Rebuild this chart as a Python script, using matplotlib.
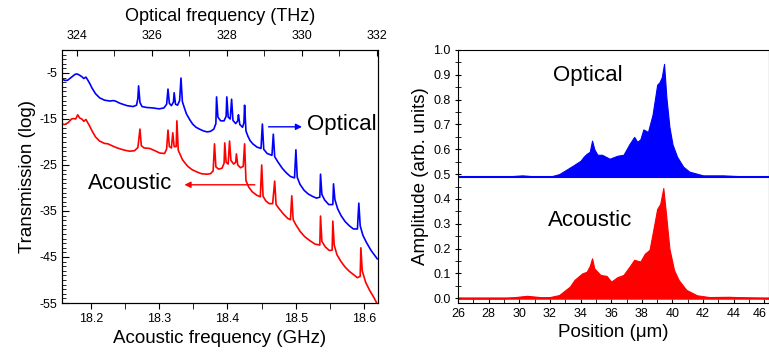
import matplotlib
matplotlib.use("Agg")
import matplotlib.pyplot as plt
from matplotlib.ticker import MultipleLocator
from matplotlib.transforms import ScaledTranslation

plt.rcParams['font.family'] = ['Liberation Sans', 'DejaVu Sans']

# ---- Left panel: transmission spectra (acoustic freq GHz, transmission log) ----
opt_f = [18.158, 18.162, 18.166, 18.172, 18.177, 18.180, 18.184, 18.187, 18.190, 18.193,
         18.196, 18.199, 18.202, 18.207, 18.213, 18.220, 18.228, 18.233, 18.236, 18.243,
         18.253, 18.262, 18.267, 18.269, 18.270, 18.272, 18.275, 18.282, 18.291, 18.300,
         18.307, 18.311, 18.313, 18.315, 18.318, 18.321, 18.322, 18.324, 18.327, 18.330,
         18.332, 18.334, 18.337, 18.340, 18.345, 18.349, 18.354, 18.359, 18.365, 18.370,
         18.375, 18.380, 18.383, 18.384, 18.386, 18.390, 18.395, 18.398, 18.399, 18.401,
         18.404, 18.406, 18.408, 18.412, 18.415, 18.416, 18.418, 18.422, 18.424, 18.425,
         18.427, 18.430, 18.433, 18.437, 18.443, 18.449, 18.451, 18.453, 18.458, 18.465,
         18.467, 18.469, 18.474, 18.480, 18.486, 18.492, 18.498, 18.500, 18.502, 18.506,
         18.512, 18.518, 18.524, 18.530, 18.535, 18.536, 18.538, 18.542, 18.548, 18.554,
         18.555, 18.557, 18.561, 18.566, 18.572, 18.578, 18.584, 18.590, 18.592, 18.594,
         18.598, 18.603, 18.610, 18.619]
opt_t = [-6.3, -6.6, -6.6, -5.9, -5.3, -5.2, -5.5, -5.8, -6.2, -5.9,
         -6.6, -7.4, -8.3, -9.5, -10.4, -10.9, -11.1, -11.0, -11.1, -11.6,
         -12.1, -12.3, -12.0, -10.5, -7.8, -11.4, -12.3, -12.5, -12.6, -12.8,
         -12.6, -11.8, -8.5, -11.6, -12.1, -11.3, -9.3, -11.8, -12.0, -11.0,
         -6.1, -11.2, -12.6, -13.9, -15.2, -16.1, -16.8, -17.2, -17.6, -17.8,
         -17.7, -17.2, -16.0, -10.2, -14.6, -15.4, -15.4, -14.4, -10.2, -14.6,
         -15.0, -10.7, -15.3, -16.0, -15.4, -14.1, -16.2, -16.8, -15.8, -12.0,
         -17.6, -18.8, -19.7, -20.4, -21.1, -21.4, -16.1, -21.6, -22.5, -22.9,
         -18.3, -23.2, -24.4, -25.7, -26.7, -27.5, -27.8, -21.7, -27.7, -29.2,
         -30.5, -31.3, -31.8, -32.2, -32.0, -27.0, -31.4, -32.6, -33.6, -33.6,
         -29.1, -32.5, -34.5, -36.0, -37.3, -38.2, -38.9, -38.9, -33.3, -38.2,
         -40.3, -41.8, -43.6, -45.4]

ac_f = [18.158, 18.162, 18.167, 18.172, 18.175, 18.178, 18.181, 18.184, 18.187, 18.190,
        18.193, 18.196, 18.199, 18.202, 18.207, 18.213, 18.220, 18.225, 18.231, 18.237,
        18.243, 18.250, 18.257, 18.264, 18.269, 18.272, 18.274, 18.278, 18.286, 18.294,
        18.301, 18.308, 18.311, 18.313, 18.315, 18.318, 18.320, 18.322, 18.325, 18.326,
        18.328, 18.331, 18.334, 18.338, 18.342, 18.348, 18.355, 18.362, 18.370, 18.375,
        18.379, 18.381, 18.383, 18.387, 18.392, 18.395, 18.396, 18.398, 18.401, 18.403,
        18.405, 18.409, 18.412, 18.413, 18.415, 18.419, 18.423, 18.425, 18.427, 18.431,
        18.436, 18.443, 18.448, 18.450, 18.452, 18.456, 18.461, 18.466, 18.469, 18.471,
        18.476, 18.482, 18.488, 18.492, 18.494, 18.496, 18.500, 18.506, 18.513, 18.520,
        18.528, 18.535, 18.536, 18.538, 18.543, 18.549, 18.553, 18.554, 18.556, 18.560,
        18.566, 18.572, 18.578, 18.584, 18.590, 18.594, 18.595, 18.597, 18.602, 18.608,
        18.614, 18.620]
ac_t = [-16.1, -16.2, -15.8, -15.0, -14.9, -15.0, -14.1, -14.8, -15.0, -15.5,
        -15.1, -15.9, -16.7, -17.6, -18.9, -19.8, -20.3, -20.4, -20.8, -21.2,
        -21.5, -21.8, -22.0, -21.9, -21.2, -17.2, -20.8, -21.3, -21.4, -21.9,
        -22.4, -22.5, -21.5, -17.4, -21.0, -21.3, -18.0, -21.0, -21.0, -15.4,
        -21.8, -22.8, -23.8, -24.6, -25.3, -26.0, -26.5, -26.9, -27.0, -26.9,
        -26.3, -20.4, -25.4, -25.9, -25.7, -24.6, -20.2, -24.4, -24.8, -19.8,
        -24.0, -24.8, -24.4, -22.6, -25.0, -25.6, -25.3, -20.4, -28.4, -29.8,
        -30.8, -31.6, -31.9, -25.0, -31.8, -32.8, -33.4, -33.4, -28.5, -33.6,
        -34.6, -35.7, -36.6, -36.9, -31.7, -36.9, -38.0, -39.4, -40.6, -41.4,
        -42.2, -42.4, -36.1, -41.6, -42.8, -43.6, -43.5, -37.2, -42.4, -44.5,
        -46.0, -47.2, -48.1, -48.8, -49.5, -49.2, -43.0, -48.0, -50.5, -52.3,
        -53.8, -55.5]

# ---- Right panel: mode amplitude envelopes vs position (um) ----
pos_opt = [26.0, 29.0, 30.2, 31.2, 32.0, 32.6, 33.0, 33.5, 34.0, 34.2, 34.4, 34.6, 34.75,
           34.9, 35.1, 35.4, 35.9, 36.4, 36.8, 37.0, 37.2, 37.5, 37.7, 37.9, 38.1,
           38.4, 38.7, 38.85, 39.0, 39.15, 39.3, 39.45, 39.6, 39.8, 40.0, 40.3, 40.7,
           41.1, 42.0, 43.3, 45.0, 46.3]
amp_opt = [0.49, 0.49, 0.495, 0.49, 0.49, 0.50, 0.515, 0.534, 0.554, 0.57, 0.582, 0.59, 0.635,
           0.60, 0.578, 0.578, 0.562, 0.574, 0.578, 0.60, 0.622, 0.65, 0.63, 0.64, 0.68,
           0.67, 0.74, 0.80, 0.86, 0.87, 0.89, 0.944, 0.81, 0.69, 0.62, 0.57, 0.53,
           0.51, 0.495, 0.495, 0.49, 0.49]

pos_ac = [26.0, 29.0, 30.5, 31.5, 32.0, 32.6, 33.3, 33.6, 34.1, 34.4, 34.6, 34.75,
          34.9, 35.3, 35.7, 36.0, 36.4, 36.8, 37.2, 37.5, 37.9, 38.2, 38.5, 38.7,
          39.0, 39.2, 39.4, 39.55, 39.8, 40.1, 40.4, 40.9, 41.6, 42.4, 43.7, 45.5, 46.3]
amp_ac = [0.0, 0.0, 0.01, 0.004, 0.005, 0.013, 0.047, 0.074, 0.10, 0.107, 0.13, 0.161,
          0.12, 0.094, 0.09, 0.067, 0.085, 0.094, 0.128, 0.155, 0.148, 0.18, 0.195, 0.26,
          0.36, 0.38, 0.444, 0.356, 0.20, 0.114, 0.074, 0.034, 0.012, 0.005, 0.006, 0.002, 0.0]
opt_base = 0.49
ac_base = 0.0

BLUE = '#0000ff'
RED = '#ff0000'

fig = plt.figure(figsize=(7.69, 3.52), dpi=100)

# Left axes
ax = fig.add_axes([0.0806, 0.1392, 0.4109, 0.7188])
ax.plot(opt_f, opt_t, color=BLUE, lw=1.2)
ax.plot(ac_f, ac_t, color=RED, lw=1.2)
ax.set_xlim(18.158, 18.62)
ax.set_ylim(-55, 0)
ax.set_yticks([-55, -45, -35, -25, -15, -5])
ax.set_yticklabels(['-55', '-45', '-35', '-25', '-15', '-5'])
ax.yaxis.set_minor_locator(MultipleLocator(1))
ax.set_xticks([18.2, 18.3, 18.4, 18.5, 18.6])
ax.xaxis.set_minor_locator(MultipleLocator(0.05))
ax.tick_params(axis='y', which='both', direction='in', labelsize=9)
ax.tick_params(axis='y', which='major', length=5)
ax.tick_params(axis='y', which='minor', length=3)
ax.tick_params(axis='x', which='both', direction='out', labelsize=9, length=4)
ax.set_xlabel('Acoustic frequency (GHz)', fontsize=13.5, labelpad=3)
ax.set_ylabel('Transmission (log)', fontsize=13.5, labelpad=2)

axt = ax.twiny()
axt.set_xlim(323.6, 332.03)
axt.set_xticks([324, 326, 328, 330, 332])
axt.xaxis.set_minor_locator(MultipleLocator(1))
axt.tick_params(axis='x', which='both', direction='in', labelsize=9, length=4, pad=6)
axt.set_xlabel('Optical frequency (THz)', fontsize=13, labelpad=6)

ax.annotate('', xy=(18.513, -16.7), xytext=(18.456, -16.7),
            arrowprops=dict(arrowstyle='-|>', color=BLUE, lw=1.0, mutation_scale=9))
ax.text(18.516, -16.3, 'Optical', fontsize=16, va='center', ha='left')
ax.annotate('', xy=(18.333, -29.3), xytext=(18.444, -29.3),
            arrowprops=dict(arrowstyle='-|>', color=RED, lw=1.0, mutation_scale=9))
ax.text(18.196, -29.1, 'Acoustic', fontsize=16, va='center', ha='left')

# Right axes
ax2 = fig.add_axes([0.5956, 0.1392, 0.4044, 0.7188])
ax2.fill_between(pos_opt, opt_base, amp_opt, color=BLUE, lw=0.8)
ax2.axhline(opt_base, color=BLUE, lw=1.5)
ax2.fill_between(pos_ac, ac_base, amp_ac, color=RED, lw=0.8)
ax2.axhline(ac_base, color=RED, lw=1.8, alpha=0.8)
ax2.set_xlim(26, 46.3)
ax2.set_ylim(-0.019, 1.0)
ax2.set_xticks([26, 28, 30, 32, 34, 36, 38, 40, 42, 44, 46])
ax2.xaxis.set_minor_locator(MultipleLocator(1))
ax2.set_yticks([0.0, 0.1, 0.2, 0.3, 0.4, 0.5, 0.6, 0.7, 0.8, 0.9, 1.0])
ax2.yaxis.set_minor_locator(MultipleLocator(0.05))
ax2.tick_params(axis='x', which='both', direction='in', labelsize=9, length=3)
ax2.tick_params(axis='y', which='both', direction='inout', labelsize=9, length=4)
ax2.set_xlabel('Position (μm)', fontsize=13.5, labelpad=3)
ax2.set_ylabel('Amplitude (arb. units)', fontsize=13.5, labelpad=3)
ax2.text(34.5, 0.896, 'Optical', fontsize=16, ha='center', va='center')
ax2.text(34.6, 0.314, 'Acoustic', fontsize=16, ha='center', va='center')

# nudge the last x tick label so it stays inside the canvas
last = ax2.get_xticklabels()[-1]
last.set_transform(last.get_transform() + ScaledTranslation(-5 / 100, 0, fig.dpi_scale_trans))

fig.savefig('out.png', dpi=100)
